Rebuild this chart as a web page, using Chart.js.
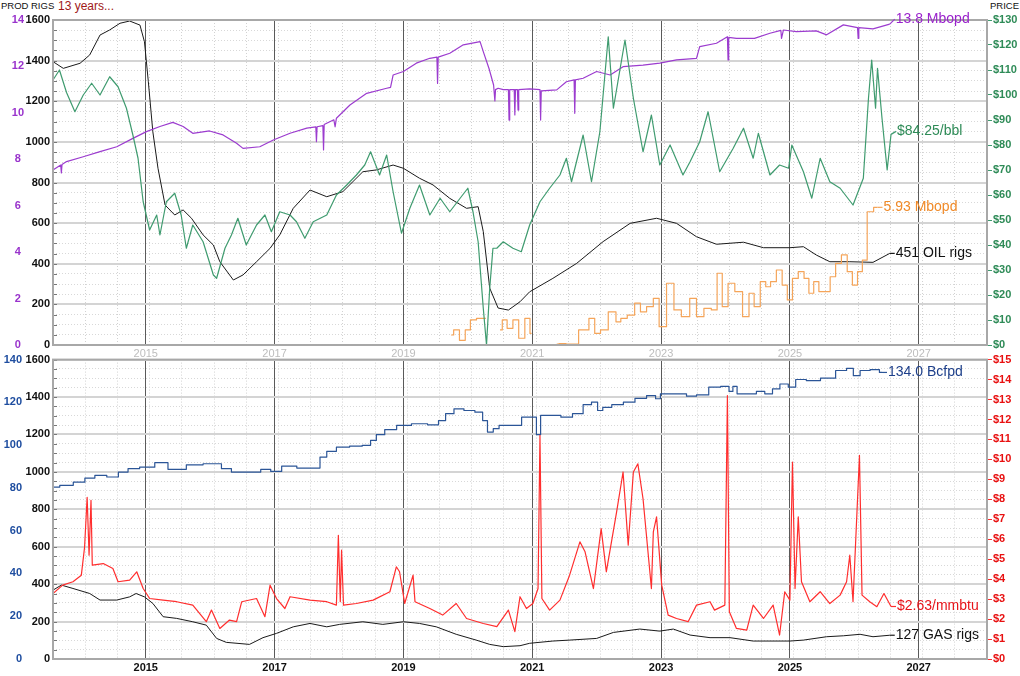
<!DOCTYPE html>
<html>
<head>
<meta charset="utf-8">
<script src="https://cdn.jsdelivr.net/npm/chart.js@4"></script>
<style>
    body { margin: 0; background: #fff; width: 1020px; height: 676px; position: relative; overflow: hidden; font-family: "Liberation Sans", Arial, sans-serif; }
    canvas { position: absolute; left: 0; }
    #arriba { top: 0; }
    #abajo { top: 350px; }
    .cab { position: absolute; top: 0; font-size: 9.5px; color: #111; line-height: 12px; }
</style>
</head>
<body>
<div class="cab" style="left:1px">PROD</div>
<div class="cab" style="left:31px">RIGS</div>
<div class="cab" style="left:58px;font-size:12px;color:#a01818">13 years...</div>
<div class="cab" style="left:990px">PRICE</div>
<canvas id="arriba" width="1020" height="362"></canvas>
<canvas id="abajo" width="1020" height="326"></canvas>
<script>
// ejes
const xMin = 2013.56
const xMax = 2028.06
const xYears = [2015, 2017, 2019, 2021, 2023, 2025, 2027]

// panel de petroleo
const oilRigYears = [2013.56, 2013.72, 2013.98, 2014.13, 2014.29, 2014.44, 2014.60, 2014.75, 2014.91, 2014.98, 2015.04, 2015.11, 2015.19, 2015.30, 2015.45, 2015.58, 2015.71, 2015.89, 2016.05, 2016.15, 2016.36, 2016.51, 2016.72, 2016.93, 2017.08, 2017.29, 2017.55, 2017.81, 2018.06, 2018.37, 2018.58, 2018.84, 2019.00, 2019.25, 2019.46, 2019.72, 2019.98, 2020.16, 2020.24, 2020.34, 2020.47, 2020.63, 2020.81, 2020.96, 2021.32, 2021.69, 2022.10, 2022.52, 2022.93, 2023.24, 2023.55, 2023.86, 2024.28, 2024.59, 2025.00, 2025.21, 2025.41, 2025.62, 2025.93, 2026.29, 2026.55]
const oilRigs = [1395, 1362, 1387, 1428, 1526, 1551, 1584, 1595, 1575, 1493, 1296, 1050, 870, 689, 640, 665, 624, 542, 492, 410, 320, 345, 410, 476, 542, 673, 763, 730, 755, 853, 862, 886, 870, 821, 788, 722, 673, 681, 558, 280, 182, 172, 213, 262, 328, 402, 509, 599, 624, 599, 533, 496, 506, 479, 479, 484, 443, 410, 410, 407, 451]

const oilProdYears = [2013.56, 2013.68, 2013.69, 2013.70, 2013.77, 2014.03, 2014.29, 2014.55, 2014.80, 2015.01, 2015.22, 2015.42, 2015.58, 2015.73, 2015.99, 2016.20, 2016.41, 2016.51, 2016.77, 2016.98, 2017.24, 2017.50, 2017.64, 2017.65, 2017.66, 2017.75, 2017.76, 2017.77, 2017.92, 2017.94, 2017.96, 2018.17, 2018.43, 2018.74, 2018.80, 2018.84, 2019.00, 2019.20, 2019.41, 2019.52, 2019.53, 2019.54, 2019.72, 2019.93, 2020.19, 2020.24, 2020.33, 2020.40, 2020.42, 2020.43, 2020.47, 2020.55, 2020.63, 2020.64, 2020.65, 2020.72, 2020.73, 2020.74, 2020.77, 2020.78, 2020.79, 2020.96, 2021.12, 2021.13, 2021.14, 2021.38, 2021.53, 2021.65, 2021.66, 2021.67, 2021.79, 2022.00, 2022.21, 2022.41, 2022.72, 2022.98, 2023.24, 2023.55, 2023.60, 2023.86, 2024.03, 2024.04, 2024.05, 2024.17, 2024.45, 2024.69, 2024.86, 2024.87, 2024.90, 2025.10, 2025.41, 2025.57, 2025.83, 2026.05, 2026.06, 2026.07, 2026.29, 2026.55]
const oilProd = [7.54, 7.75, 7.41, 7.78, 7.90, 8.11, 8.33, 8.54, 8.90, 9.19, 9.41, 9.59, 9.41, 9.12, 9.22, 9.05, 8.69, 8.47, 8.54, 8.83, 9.12, 9.34, 9.40, 8.76, 9.40, 9.45, 8.40, 9.50, 9.70, 9.40, 9.77, 10.34, 10.84, 11.06, 11.10, 11.63, 11.78, 12.14, 12.35, 12.40, 11.27, 12.40, 12.57, 12.93, 13.07, 12.64, 11.90, 11.20, 10.51, 11.00, 11.06, 11.00, 11.00, 9.69, 11.00, 11.00, 9.91, 11.00, 11.00, 10.12, 11.00, 11.03, 11.00, 9.69, 10.95, 10.99, 11.34, 11.42, 9.98, 11.42, 11.49, 11.78, 11.63, 11.99, 12.06, 12.14, 12.28, 12.35, 12.85, 13.00, 13.28, 12.28, 13.25, 13.21, 13.21, 13.43, 13.55, 13.21, 13.57, 13.50, 13.53, 13.36, 13.79, 13.67, 13.21, 13.67, 13.62, 13.82]

const oilPriceYears = [2013.56, 2013.66, 2013.77, 2013.90, 2014.03, 2014.16, 2014.29, 2014.44, 2014.57, 2014.70, 2014.80, 2014.88, 2014.96, 2015.06, 2015.17, 2015.22, 2015.32, 2015.45, 2015.55, 2015.63, 2015.73, 2015.89, 2016.05, 2016.10, 2016.23, 2016.33, 2016.43, 2016.56, 2016.72, 2016.85, 2016.95, 2017.08, 2017.24, 2017.34, 2017.47, 2017.60, 2017.81, 2017.96, 2018.12, 2018.27, 2018.40, 2018.49, 2018.63, 2018.74, 2018.84, 2018.97, 2019.10, 2019.25, 2019.41, 2019.57, 2019.72, 2019.88, 2020.00, 2020.08, 2020.16, 2020.24, 2020.29, 2020.34, 2020.39, 2020.45, 2020.55, 2020.70, 2020.83, 2020.96, 2021.12, 2021.27, 2021.43, 2021.53, 2021.61, 2021.79, 2021.92, 2022.05, 2022.18, 2022.26, 2022.44, 2022.57, 2022.72, 2022.85, 2022.98, 2023.14, 2023.34, 2023.45, 2023.60, 2023.73, 2023.91, 2024.12, 2024.28, 2024.43, 2024.51, 2024.69, 2024.84, 2024.98, 2025.03, 2025.21, 2025.34, 2025.47, 2025.62, 2025.78, 2025.98, 2026.14, 2026.22, 2026.27, 2026.33, 2026.36, 2026.43, 2026.51, 2026.57]
const oilPrice = [106, 110, 101, 93.3, 100, 104.7, 100, 107.3, 103.3, 94.7, 84, 74.7, 57.3, 46, 52, 44, 57.3, 60.7, 52, 38.7, 48, 41.3, 28, 26.7, 38.7, 44, 50.7, 40, 48, 52, 45.3, 53.3, 52, 49.3, 42.7, 49.3, 52, 60, 64, 68, 72, 77.3, 68, 76, 61.3, 44.7, 54.7, 64, 52, 58.7, 53.3, 58.7, 62.7, 53.3, 41.3, 14.7, 0, 22.7, 38.7, 38.7, 41.3, 38.7, 37.3, 48, 57.3, 62.7, 68, 74.7, 65.3, 84, 65.3, 85.3, 123.3, 94.7, 122, 98.7, 77.3, 92, 72, 80, 68, 73.3, 81.3, 93.3, 69.3, 78.7, 86.7, 74.7, 84.7, 68, 72, 70.7, 80, 69.3, 58.7, 74.7, 65.3, 62.7, 56, 66.7, 98.7, 114, 94.7, 110.7, 90.7, 70, 84.25]

const otherProdYears = [2019.74, 2019.82, 2019.92, 2020.00, 2020.08, 2020.19, 2020.28, 2020.38, 2020.50, 2020.57, 2020.65, 2020.75, 2020.83, 2020.94, 2020.99, 2021.03, 2021.17, 2021.21, 2021.38, 2021.45, 2021.60, 2021.84, 2021.92, 2022.02, 2022.10, 2022.26, 2022.34, 2022.41, 2022.54, 2022.64, 2022.72, 2022.83, 2022.93, 2023.01, 2023.16, 2023.24, 2023.39, 2023.50, 2023.60, 2023.73, 2023.83, 2023.91, 2023.99, 2024.09, 2024.20, 2024.33, 2024.40, 2024.49, 2024.59, 2024.66, 2024.74, 2024.84, 2024.92, 2025.00, 2025.08, 2025.18, 2025.26, 2025.33, 2025.41, 2025.49, 2025.58, 2025.67, 2025.75, 2025.85, 2025.93, 2026.01, 2026.09, 2026.16, 2026.24, 2026.36]
const otherProd = [0.43, 0.65, 0.2, 0.65, 1.08, 1.15, 1.15, null, 0.65, 1.08, 0.72, 1.08, 0.29, 1.15, 0.5, null, 0.45, null, 0.04, 0.06, 0.04, 0.65, 1.15, 0.5, 0.65, 1.43, 1.0, 1.15, 1.29, 1.80, 1.43, 1.65, 2.01, 0.79, 2.66, 1.51, 1.22, 2.01, 1.22, 1.58, 1.51, 3.09, 1.65, 2.66, 2.30, 1.22, 2.23, 1.65, 2.73, 2.51, 2.73, 3.23, 2.58, 1.94, 2.87, 3.16, 2.87, 2.23, 2.73, 2.30, 2.30, 2.94, 3.52, 3.88, 3.16, 2.58, 3.16, 3.66, 5.74, 5.93]

// panel de gas
const gasRigYears = [2013.56, 2013.69, 2013.87, 2014.13, 2014.29, 2014.55, 2014.75, 2014.85, 2014.98, 2015.11, 2015.27, 2015.48, 2015.73, 2015.94, 2016.10, 2016.25, 2016.61, 2016.82, 2017.03, 2017.29, 2017.55, 2017.81, 2018.01, 2018.37, 2018.68, 2019.00, 2019.25, 2019.51, 2019.82, 2020.13, 2020.34, 2020.55, 2020.81, 2020.96, 2021.32, 2021.58, 2022.00, 2022.26, 2022.67, 2022.98, 2023.19, 2023.45, 2023.76, 2024.07, 2024.43, 2025.00, 2025.21, 2025.57, 2025.83, 2026.09, 2026.29, 2026.55]
const gasRigs = [368, 395, 377, 350, 315, 315, 332, 350, 332, 297, 226, 217, 199, 181, 110, 89, 78, 114, 137, 172, 190, 172, 185, 199, 185, 199, 190, 172, 132, 101, 78, 66, 71, 84, 96, 101, 110, 142, 160, 149, 160, 128, 114, 114, 96, 96, 101, 119, 124, 132, 119, 127]

const gasProdYears = [2013.56, 2013.77, 2013.98, 2014.13, 2014.29, 2014.50, 2014.65, 2014.80, 2015.01, 2015.27, 2015.42, 2015.58, 2015.68, 2016.10, 2016.25, 2016.41, 2016.72, 2016.85, 2017.03, 2017.19, 2017.50, 2017.65, 2017.76, 2017.86, 2018.06, 2018.27, 2018.45, 2018.53, 2018.63, 2018.79, 2019.00, 2019.25, 2019.50, 2019.59, 2019.72, 2019.85, 2020.03, 2020.19, 2020.27, 2020.34, 2020.45, 2020.52, 2020.81, 2020.86, 2021.04, 2021.09, 2021.17, 2021.38, 2021.51, 2021.74, 2021.84, 2022.00, 2022.03, 2022.16, 2022.31, 2022.52, 2022.67, 2022.88, 2022.95, 2023.03, 2023.34, 2023.45, 2023.65, 2023.83, 2024.02, 2024.09, 2024.14, 2024.22, 2024.43, 2024.53, 2024.69, 2024.77, 2024.92, 2025.03, 2025.15, 2025.36, 2025.59, 2025.83, 2025.93, 2026.04, 2026.14, 2026.35, 2026.43]
const gasProd = [80.4, 81.2, 82.7, 84.6, 85.9, 85.1, 87.4, 89.0, 89.7, 91.8, 88.7, 88.7, 90.8, 91.3, 89.0, 87.4, 87.4, 88.7, 87.7, 90.2, 89.3, 89.3, 94.4, 97.1, 99.1, 99.5, 99.9, 102.2, 104.9, 107.3, 109.2, 110.0, 109.5, 111.5, 114.7, 117.0, 116.2, 115.4, 111.5, 106.1, 107.7, 109.2, 109.2, 113.1, 113.1, 104.9, 113.9, 113.9, 113.1, 114.7, 118.9, 120.1, 116.2, 117.7, 118.9, 120.1, 121.9, 123.2, 121.7, 124.0, 124.0, 122.9, 123.5, 127.1, 127.5, 125.1, 127.5, 124.0, 124.0, 125.1, 124.0, 126.3, 128.6, 127.1, 130.7, 130.2, 131.3, 134.9, 135.9, 132.5, 134.9, 135.3, 134.0]

const gasPriceYears = [2013.56, 2013.71, 2013.87, 2014.00, 2014.05, 2014.09, 2014.12, 2014.15, 2014.17, 2014.34, 2014.49, 2014.57, 2014.75, 2014.86, 2014.96, 2015.06, 2015.27, 2015.48, 2015.73, 2015.94, 2016.02, 2016.15, 2016.30, 2016.41, 2016.49, 2016.72, 2016.85, 2016.93, 2017.03, 2017.16, 2017.24, 2017.55, 2017.81, 2017.96, 2017.99, 2018.02, 2018.04, 2018.07, 2018.27, 2018.53, 2018.79, 2018.89, 2018.94, 2019.02, 2019.15, 2019.18, 2019.41, 2019.61, 2019.82, 2019.98, 2020.24, 2020.45, 2020.63, 2020.73, 2020.81, 2020.91, 2021.01, 2021.09, 2021.12, 2021.15, 2021.27, 2021.43, 2021.58, 2021.74, 2021.82, 2021.95, 2022.07, 2022.15, 2022.31, 2022.41, 2022.49, 2022.57, 2022.64, 2022.72, 2022.85, 2022.88, 2022.93, 2023.01, 2023.11, 2023.24, 2023.42, 2023.55, 2023.76, 2023.83, 2023.99, 2024.03, 2024.06, 2024.17, 2024.33, 2024.43, 2024.59, 2024.74, 2024.84, 2024.92, 2025.00, 2025.04, 2025.08, 2025.13, 2025.18, 2025.31, 2025.47, 2025.62, 2025.78, 2025.88, 2025.93, 2025.98, 2026.08, 2026.12, 2026.24, 2026.35, 2026.46, 2026.57]
const gasPrice = [3.28, 3.7, 3.87, 4.2, 5.6, 8.1, 5.2, 7.95, 4.7, 4.78, 4.53, 3.87, 3.95, 4.37, 3.53, 3.03, 2.95, 2.87, 2.7, 1.87, 2.45, 1.53, 1.95, 1.87, 2.87, 3.03, 2.12, 3.7, 3.03, 2.53, 3.12, 2.95, 2.87, 2.7, 6.2, 2.87, 5.45, 2.7, 2.78, 2.95, 3.37, 4.62, 4.37, 2.78, 4.2, 2.87, 2.53, 2.2, 2.78, 2.03, 1.78, 1.62, 2.45, 1.37, 3.12, 2.53, 2.78, 3.53, 11.2, 3.03, 2.45, 2.95, 4.2, 5.87, 5.37, 3.53, 6.53, 4.37, 7.37, 9.37, 5.7, 9.37, 9.78, 8.03, 3.53, 6.37, 7.12, 3.7, 2.2, 2.03, 1.87, 2.7, 2.87, 2.45, 2.7, 13.2, 2.37, 1.53, 1.45, 2.7, 2.03, 2.7, 1.2, 3.37, 2.95, 9.87, 3.53, 7.12, 3.87, 2.87, 3.37, 2.78, 3.2, 3.87, 5.2, 2.87, 10.2, 3.2, 2.87, 2.62, 3.28, 2.63]


const puntos = (xs, ys) => xs.map((x, i) => ({ x: x, y: ys[i] }))

const fuente = "'Liberation Sans', Arial, sans-serif"

// etiqueta al final de cada serie
const etiquetasFinales = {
    id: 'etiquetasFinales',
    afterDatasetsDraw(chart) {
        const ctx = chart.ctx
        chart.data.datasets.forEach((ds, i) => {
            if (!ds.etiqueta) return
            const meta = chart.getDatasetMeta(i)
            let ultimo = null
            meta.data.forEach((p, j) => { if (ds.data[j].y !== null) ultimo = p })
            if (!ultimo) return
            const y = ultimo.y + (ds.desplazaY || 0)
            ctx.save()
            ctx.strokeStyle = ds.borderColor
            ctx.lineWidth = 1.2
            ctx.beginPath()
            ctx.moveTo(ultimo.x, ultimo.y)
            ctx.lineTo(ultimo.x + 5, y)
            ctx.stroke()
            ctx.font = '14px ' + fuente
            ctx.fillStyle = ds.colorEtiqueta
            ctx.textBaseline = 'middle'
            ctx.textAlign = 'left'
            ctx.fillText(ds.etiqueta, ultimo.x + 6, y)
            ctx.restore()
        })
    }
}

// marco del area y marcas cortas hacia dentro en el eje de rigs
const marco = {
    id: 'marco',
    afterDatasetsDraw(chart) {
        const a = chart.chartArea
        const ctx = chart.ctx
        ctx.save()
        ctx.strokeStyle = '#777'
        ctx.lineWidth = 1
        chart.scales.rigsGrid.ticks.forEach(t => {
            const y = Math.round(chart.scales.rigsGrid.getPixelForValue(t.value)) + 0.5
            ctx.beginPath()
            ctx.moveTo(a.left, y)
            ctx.lineTo(a.left + 4, y)
            ctx.stroke()
        })
        ctx.strokeStyle = '#a8a8a8'
        ctx.lineWidth = 2
        ctx.strokeRect(a.left, a.top, a.right - a.left, a.bottom - a.top)
        ctx.restore()
    }
}

const linea = (data, eje, color, extra) => Object.assign({
    data: data,
    yAxisID: eje,
    xAxisID: 'x',
    borderColor: color,
    borderWidth: 1.2,
    pointRadius: 0,
    tension: 0,
    borderJoinStyle: 'round',
    spanGaps: false
}, extra || {})

const ejesX = (colorAnio, negrita) => ({
    x: {
        type: 'linear', position: 'bottom', min: xMin, max: xMax,
        ticks: { display: false, stepSize: 0.5, includeBounds: false },
        grid: { color: '#d2d2d2', lineWidth: 1, drawTicks: false },
        border: { display: false, dash: [1, 2] },
        afterFit: (s) => { s.height = 0 }
    },
    xAnio: {
        type: 'linear', position: 'bottom', min: xMin, max: xMax,
        afterBuildTicks: (s) => { s.ticks = xYears.map(v => ({ value: v })) },
        ticks: {
            autoSkip: false, maxRotation: 0, padding: 2, color: colorAnio,
            font: { family: fuente, size: 11, weight: negrita ? 'bold' : 'normal' },
            callback: (v) => String(v)
        },
        grid: { color: '#5a5a5a', lineWidth: 1, drawTicks: false },
        border: { display: false },
        afterFit: (s) => { s.height = 17 }
    }
})

const ejeRigs = () => ({
    rigsGrid: {
        type: 'linear', position: 'left', min: 0, max: 1600, weight: 0,
        ticks: { display: false, stepSize: 50 },
        grid: { color: '#d8d8d8', lineWidth: 1, drawTicks: false },
        border: { display: false, dash: [1, 2] },
        afterFit: (s) => { s.width = 0 }
    },
    rigs: {
        type: 'linear', position: 'left', min: 0, max: 1600, weight: 1,
        ticks: {
            stepSize: 200, padding: 3, color: '#111',
            font: { family: fuente, size: 11, weight: 'bold' },
            callback: (v) => String(v)
        },
        grid: { color: '#d4d4d4', lineWidth: 2, drawTicks: false },
        border: { display: false },
        afterFit: (s) => { s.width = 29 }
    }
})

// grafico de petroleo
new Chart(document.getElementById('arriba'), {
    type: 'line',
    data: {
        datasets: [
            linea(puntos(oilPriceYears, oilPrice), 'price', '#3f9b6f', { etiqueta: '$84.25/bbl', colorEtiqueta: '#2e8b57', desplazaY: -3 }),
            linea(puntos(oilProdYears, oilProd), 'prod', '#9c3ccf', { etiqueta: '13.8 Mbopd', colorEtiqueta: '#9a22cc', desplazaY: -5 }),
            linea(puntos(otherProdYears, otherProd), 'prod', '#f5a55a', { stepped: 'middle', etiqueta: '5.93 Mbopd', colorEtiqueta: '#f08a28' }),
            linea(puntos(oilRigYears, oilRigs), 'rigs', '#1a1a1a', { borderWidth: 1, etiqueta: '451 OIL rigs', colorEtiqueta: '#111' })
        ]
    },
    options: {
        responsive: false,
        animation: false,
        layout: { padding: { top: 20, left: 0, right: 0, bottom: 0 } },
        plugins: { legend: { display: false }, tooltip: { enabled: false } },
        scales: Object.assign(ejesX('#bdbdbd', false), ejeRigs(), {
            prod: {
                type: 'linear', position: 'left', min: 0, max: 14, weight: 2,
                ticks: { stepSize: 2, padding: 0, crossAlign: 'center', color: '#9933cc', font: { family: fuente, size: 11, weight: 'bold' } },
                grid: { drawOnChartArea: false, drawTicks: false },
                border: { display: false },
                afterFit: (s) => { s.width = 24 }
            },
            price: {
                type: 'linear', position: 'right', min: 0, max: 130,
                ticks: {
                    stepSize: 5, padding: 1, color: '#2e8b57',
                    font: { family: fuente, size: 11, weight: 'bold' },
                    callback: (v) => v % 10 === 0 ? '$' + v : ''
                },
                grid: { drawOnChartArea: false, drawTicks: true, tickLength: 5, tickColor: '#3f9b6f' },
                border: { display: false },
                afterFit: (s) => { s.width = 33 }
            }
        })
    },
    plugins: [marco, etiquetasFinales]
})

// grafico de gas
new Chart(document.getElementById('abajo'), {
    type: 'line',
    data: {
        datasets: [
            linea(puntos(gasPriceYears, gasPrice), 'price', '#ff2e2e', { etiqueta: '$2.63/mmbtu', colorEtiqueta: '#e8141a' }),
            linea(puntos(gasProdYears, gasProd), 'prod', '#2b5597', { stepped: 'middle', etiqueta: '134.0 Bcfpd', colorEtiqueta: '#1d3f8a' }),
            linea(puntos(gasRigYears, gasRigs), 'rigs', '#1a1a1a', { borderWidth: 1, etiqueta: '127 GAS rigs', colorEtiqueta: '#111' })
        ]
    },
    options: {
        responsive: false,
        animation: false,
        layout: { padding: { top: 9, left: 0, right: 0, bottom: 0 } },
        plugins: { legend: { display: false }, tooltip: { enabled: false } },
        scales: Object.assign(ejesX('#111', true), ejeRigs(), {
            prod: {
                type: 'linear', position: 'left', min: 0, max: 140, weight: 2,
                ticks: { stepSize: 20, padding: 2, color: '#1f4ea0', font: { family: fuente, size: 11, weight: 'bold' } },
                grid: { drawOnChartArea: false, drawTicks: false },
                border: { display: false },
                afterFit: (s) => { s.width = 24 }
            },
            price: {
                type: 'linear', position: 'right', min: 0, max: 15,
                ticks: {
                    stepSize: 0.5, padding: 1, color: '#e81010',
                    font: { family: fuente, size: 11, weight: 'bold' },
                    callback: (v) => Number.isInteger(v) ? '$' + v : ''
                },
                grid: { drawOnChartArea: false, drawTicks: true, tickLength: 5, tickColor: '#ff2e2e' },
                border: { display: false },
                afterFit: (s) => { s.width = 33 }
            }
        })
    },
    plugins: [marco, etiquetasFinales]
})
</script>
</body>
</html>
